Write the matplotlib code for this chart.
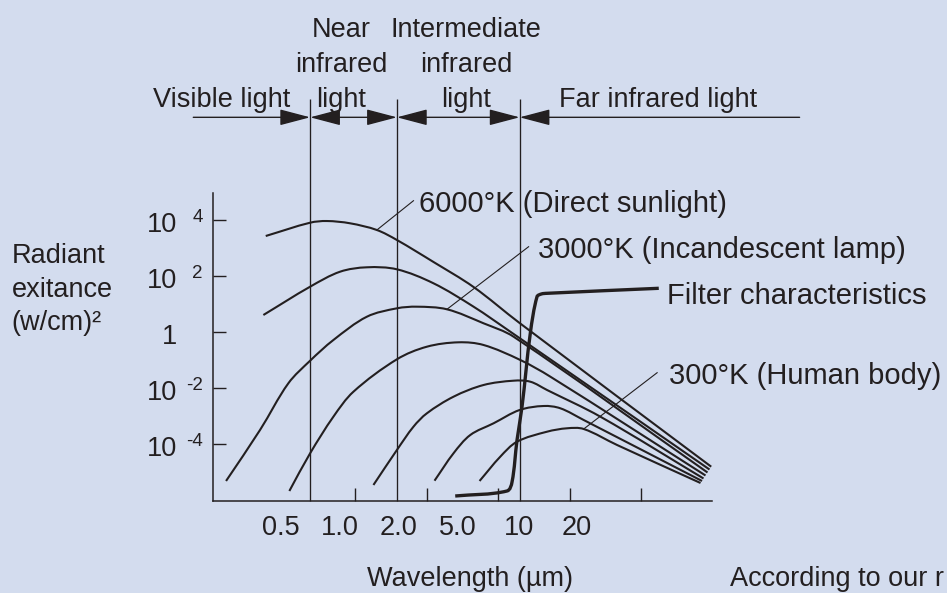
import numpy as np
import matplotlib

matplotlib.use("Agg")
import matplotlib.pyplot as plt
from matplotlib.path import Path
from matplotlib.patches import PathPatch

plt.rcParams["font.family"] = ["Liberation Sans", "DejaVu Sans"]

BG = "#d3dcee"
INK = "#231f20"
FS = 19.5
FS_CALL = 21

# x: position along the wavelength axis (one unit per tick), y: log10 of radiant exitance
c6000_x = [0.743, 1.365, 1.599, 1.926, 2.300, 2.581, 3.094, 3.655, 4.300, 6.985]
c6000_y = [3.429, 3.904, 3.964, 3.882, 3.643, 3.286, 2.500, 1.607, 0.321, -4.811]
c2_x = [0.710, 1.365, 1.785, 2.160, 2.581, 3.094, 3.655, 4.170, 6.961]
c2_y = [0.607, 1.618, 2.154, 2.311, 2.239, 1.739, 0.904, 0.011, -4.911]
c3000_x = [0.187, 0.663, 1.060, 1.365, 1.691, 2.160, 2.581, 2.861, 3.282, 3.795, 4.216, 6.933]
c3000_y = [-5.321, -3.5, -1.832, -1.025, -0.286, 0.546, 0.846, 0.904, 0.811, 0.311, -0.168, -5.018]
c4_x = [1.074, 1.365, 1.691, 1.972, 2.581, 3.001, 3.445, 3.795, 4.310, 4.731, 6.905]
c4_y = [-5.679, -4.332, -3.025, -2.132, -0.975, -0.525, -0.368, -0.464, -1.0, -1.596, -5.125]
c5_x = [2.252, 2.581, 2.813, 3.001, 3.374, 3.795, 4.216, 4.450, 4.684, 5.432, 6.877]
c5_y = [-5.464, -4.214, -3.382, -2.904, -2.311, -1.893, -1.739, -1.775, -2.071, -3.025, -5.232]
c6_x = [3.108, 3.374, 3.609, 3.935, 4.300, 4.637, 4.871, 5.198, 6.856]
c6_y = [-5.311, -4.332, -3.679, -3.261, -2.786, -2.643, -2.725, -3.143, -5.321]
c300_x = [3.739, 4.029, 4.264, 4.684, 4.965, 5.198, 5.666, 6.835]
c300_y = [-5.321, -4.454, -3.918, -3.561, -3.439, -3.464, -4.036, -5.393]
filt_x = [3.398, 4.123, 4.194, 4.264, 4.334, 4.450, 4.544, 4.604, 4.684, 6.250]
filt_y = [-5.857, -5.679, -5.357, -3.857, -2.668, -0.046, 1.261, 1.357, 1.382, 1.561]

# axis ticks and their hand-placed labels
ytick_vals = [4, 2, 0, -2, -4]
ytick_base = ["10", "10", "1", "10", "10"]
ytick_exp = ["4", "2", "", "-2", "-4"]
xtick_vals = [2, 3, 4, 5, 6]
xlabels = ["0.5", "1.0", "2.0", "5.0", "10", "20"]
xlabel_pos = [0.954, 1.785, 2.603, 3.43, 4.286, 5.095]

# spectrum band boundaries and names
band_edges = [1.365, 2.581, 4.300]
band_names = ["Visible light", "Near\ninfrared\nlight", "Intermediate\ninfrared\nlight",
              "Far infrared light"]
band_center = [0.130, 1.799, 3.552, 6.247]

# curve callouts: (text, curve point, leader end, text anchor)
callouts = [
    ("6000°K (Direct sunlight)", (2.300, 3.643), (2.813, 4.689), (2.885, 4.275)),
    ("3000°K (Incandescent lamp)", (3.282, 0.811), (4.426, 3.046), (4.553, 2.632)),
    ("300°K (Human body)", (5.198, -3.464), (6.227, -1.454), (6.390, -1.857)),
]

# pixels per data unit, used so the smoothing works in screen proportions
SX, SY = 71.3, 28.0


def smooth_path(xs, ys):
    p = np.column_stack([np.asarray(xs) * SX, np.asarray(ys) * SY])
    n = len(p)
    tan = np.zeros_like(p)
    for i in range(n):
        d = p[min(i + 1, n - 1)] - p[max(i - 1, 0)]
        tan[i] = d / np.hypot(*d)
    verts, codes = [p[0]], [Path.MOVETO]
    for i in range(n - 1):
        L = np.hypot(*(p[i + 1] - p[i]))
        verts += [p[i] + tan[i] * L / 3, p[i + 1] - tan[i + 1] * L / 3, p[i + 1]]
        codes += [Path.CURVE4] * 3
    v = np.array(verts)
    v[:, 0] /= SX
    v[:, 1] /= SY
    return Path(v, codes)


fig = plt.figure(figsize=(9.47, 5.93), dpi=100, facecolor=BG)
ax = fig.add_axes([212.7 / 947, 92 / 593, 499.6 / 947, 307.7 / 593])
ax.set_facecolor(BG)
ax.set_xlim(0, 7)
ax.set_ylim(-6.036, 4.954)
for s in ["top", "right"]:
    ax.spines[s].set_visible(False)
for s in ["left", "bottom"]:
    ax.spines[s].set_color(INK)
    ax.spines[s].set_linewidth(1.1)
ax.set_xticks(xtick_vals)
ax.set_yticks(ytick_vals)
ax.set_xticklabels([])
ax.set_yticklabels([])
ax.tick_params(direction="in", length=9.5, width=1.0, color=INK)

for xs, ys in [(c6000_x, c6000_y), (c2_x, c2_y), (c3000_x, c3000_y), (c4_x, c4_y),
               (c5_x, c5_y), (c6_x, c6_y), (c300_x, c300_y)]:
    ax.add_patch(PathPatch(smooth_path(xs, ys), fill=False, ec=INK, lw=1.5,
                           capstyle="butt", clip_on=False))
ax.add_patch(PathPatch(smooth_path(filt_x, filt_y), fill=False, ec=INK, lw=2.4,
                       capstyle="butt", clip_on=False))
ax.text(6.367, 1.0, "Filter characteristics", fontsize=FS_CALL, color=INK, va="baseline")

for label, p0, p1, tp in callouts:
    ax.plot([p0[0], p1[0]], [p0[1], p1[1]], color=INK, lw=0.8, clip_on=False)
    ax.text(tp[0], tp[1], label, fontsize=FS_CALL, color=INK, va="baseline")

# band separators and arrows
ax.vlines(band_edges, -6.036, 8.311, color=INK, lw=0.95, clip_on=False)
band_y = 7.668
ends = [-0.272] + band_edges + [8.223]
styles = ["-|>", "<|-|>", "<|-|>", "<|-"]
for i, st in enumerate(styles):
    ax.annotate("", xy=(ends[i + 1], band_y), xytext=(ends[i], band_y),
                annotation_clip=False,
                arrowprops=dict(arrowstyle=st + ",head_length=19,head_width=5",
                                mutation_scale=1, shrinkA=0, shrinkB=0,
                                color=INK, lw=1.0))
for name, xc in zip(band_names, band_center):
    rows = name.split("\n")
    for k, row in enumerate(reversed(rows)):
        ax.text(xc, 8.046 + 1.25 * k, row, fontsize=FS, color=INK,
                ha="center", va="baseline")

# y tick labels drawn as "10" plus raised exponent
for v, b, e in zip(ytick_vals, ytick_base, ytick_exp):
    ax.text(-0.50, v - 0.415, b, fontsize=FS, color=INK, ha="right", va="baseline")
    if e:
        ax.text(-0.136, v - 0.061, e, fontsize=13.5, color=INK, ha="right", va="baseline")

for lab, xp in zip(xlabels, xlabel_pos):
    ax.text(xp, -7.25, lab, fontsize=FS, color=INK, ha="center", va="baseline")

ax.text(3.602, -9.089, "Wavelength (µm)", fontsize=FS, color=INK, ha="center", va="baseline")
ax.text(7.245, -9.089, "According to our r", fontsize=FS, color=INK, va="baseline")

for k, row in enumerate(["Radiant", "exitance", "(w/cm)²"]):
    ax.text(-2.819, 2.464 - 1.2 * k, row, fontsize=FS, color=INK, va="baseline")

fig.savefig("out.png", dpi=100, facecolor=BG)
